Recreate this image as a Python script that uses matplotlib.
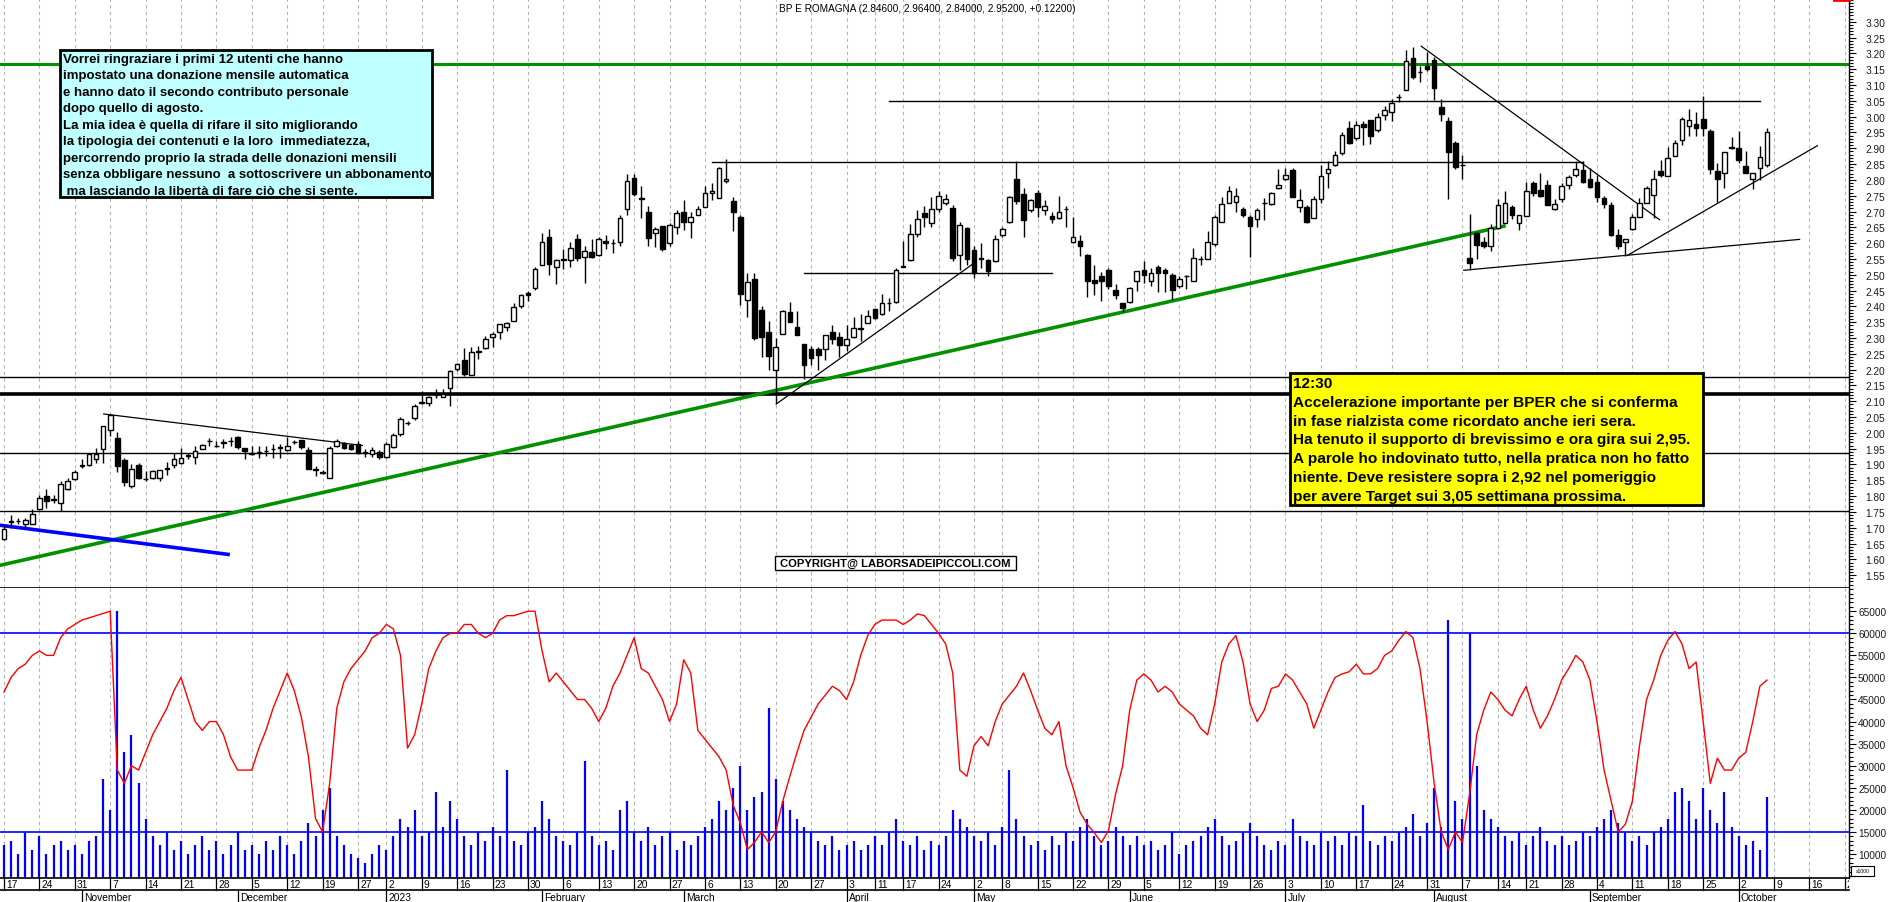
import numpy as np
import pandas as pd
import matplotlib
matplotlib.use("Agg")
import matplotlib.pyplot as plt
from matplotlib.patches import Rectangle
from matplotlib.lines import Line2D
from matplotlib.ticker import FixedLocator, MultipleLocator, FuncFormatter

plt.rcParams['font.family'] = ['Liberation Sans', 'DejaVu Sans']

# ---- dati BPER (candele giornaliere 17/10/2022 - 06/10/2023) ----
HOLIDAYS = ['2022-12-26', '2023-04-07', '2023-04-10', '2023-05-01', '2023-08-15']

opens = [1.665, 1.718, 1.721, 1.712, 1.712, 1.760, 1.800, 1.788, 1.779, 1.821,
         1.853, 1.896, 1.898, 1.916, 1.950, 2.009, 1.985, 1.913, 1.832, 1.897,
         1.855, 1.856, 1.858, 1.886, 1.897, 1.906, 1.927, 1.923, 1.950, 1.974,
         1.958, 1.969, 1.974, 1.987, 1.953, 1.937, 1.937, 1.942, 1.948, 1.953,
         1.945, 1.971, 1.976, 1.945, 1.884, 1.874, 1.858, 1.960, 1.967, 1.962,
         1.964, 1.940, 1.932, 1.940, 1.925, 1.956, 1.995, 2.030, 2.046, 2.095,
         2.095, 2.119, 2.114, 2.143, 2.201, 2.229, 2.183, 2.256, 2.269, 2.304,
         2.320, 2.335, 2.354, 2.401, 2.443, 2.459, 2.531, 2.618, 2.523, 2.547,
         2.547, 2.612, 2.557, 2.573, 2.564, 2.606, 2.599, 2.605, 2.707, 2.807,
         2.744, 2.700, 2.633, 2.655, 2.599, 2.652, 2.700, 2.668, 2.690, 2.715,
         2.757, 2.744, 2.795, 2.734, 2.684, 2.419, 2.488, 2.387, 2.320, 2.199,
         2.314, 2.383, 2.336, 2.280, 2.264, 2.264, 2.266, 2.320, 2.304, 2.278,
         2.303, 2.327, 2.348, 2.393, 2.375, 2.410, 2.415, 2.526, 2.546, 2.630,
         2.694, 2.665, 2.707, 2.728, 2.710, 2.562, 2.649, 2.578, 2.554, 2.546,
         2.544, 2.625, 2.668, 2.802, 2.755, 2.705, 2.758, 2.704, 2.686, 2.681,
         2.707, 2.605, 2.607, 2.563, 2.483, 2.496, 2.514, 2.451, 2.410, 2.415,
         2.480, 2.514, 2.480, 2.523, 2.514, 2.500, 2.463, 2.496, 2.480, 2.549,
         2.551, 2.596, 2.668, 2.728, 2.731, 2.707, 2.684, 2.676, 2.726, 2.723,
         2.774, 2.804, 2.831, 2.713, 2.715, 2.681, 2.739, 2.823, 2.846, 2.884,
         2.964, 2.934, 2.977, 2.989, 2.958, 3.005, 3.016, 3.061, 3.085, 3.184,
         3.140, 3.159, 3.179, 3.029, 2.985, 2.918, 2.846, 2.554, 2.631, 2.605,
         2.591, 2.647, 2.665, 2.713, 2.665, 2.686, 2.789, 2.767, 2.783, 2.707,
         2.739, 2.783, 2.816, 2.831, 2.802, 2.792, 2.742, 2.720, 2.625, 2.605,
         2.644, 2.684, 2.728, 2.752, 2.827, 2.813, 2.874, 2.926, 2.971, 2.976,
         2.992, 2.953, 2.829, 2.823, 2.902, 2.902, 2.844, 2.804, 2.836, 2.846]

highs = [1.710, 1.739, 1.731, 1.731, 1.758, 1.805, 1.821, 1.805, 1.848, 1.858,
         1.884, 1.916, 1.937, 1.951, 2.022, 2.058, 2.003, 1.922, 1.903, 1.905,
         1.879, 1.882, 1.884, 1.907, 1.937, 1.953, 1.937, 1.958, 1.964, 1.985,
         1.974, 1.980, 1.987, 1.990, 1.953, 1.958, 1.958, 1.958, 1.964, 1.964,
         1.988, 1.979, 1.979, 1.956, 1.895, 1.884, 1.958, 1.980, 1.971, 1.966,
         1.975, 1.950, 1.956, 1.945, 1.972, 2.000, 2.050, 2.037, 2.090, 2.132,
         2.118, 2.138, 2.140, 2.200, 2.222, 2.269, 2.270, 2.275, 2.305, 2.320,
         2.345, 2.352, 2.410, 2.440, 2.450, 2.525, 2.633, 2.644, 2.550, 2.580,
         2.605, 2.630, 2.590, 2.614, 2.620, 2.625, 2.612, 2.690, 2.820, 2.820,
         2.782, 2.717, 2.650, 2.655, 2.665, 2.704, 2.735, 2.700, 2.717, 2.780,
         2.790, 2.841, 2.865, 2.747, 2.690, 2.505, 2.505, 2.400, 2.355, 2.300,
         2.390, 2.415, 2.385, 2.280, 2.275, 2.270, 2.308, 2.340, 2.320, 2.340,
         2.365, 2.375, 2.387, 2.393, 2.438, 2.428, 2.520, 2.607, 2.660, 2.706,
         2.717, 2.746, 2.765, 2.755, 2.720, 2.667, 2.650, 2.590, 2.600, 2.550,
         2.626, 2.650, 2.750, 2.860, 2.773, 2.740, 2.768, 2.737, 2.700, 2.748,
         2.718, 2.683, 2.625, 2.565, 2.530, 2.510, 2.522, 2.470, 2.410, 2.462,
         2.512, 2.545, 2.520, 2.532, 2.520, 2.505, 2.496, 2.498, 2.585, 2.560,
         2.638, 2.690, 2.745, 2.781, 2.775, 2.715, 2.690, 2.710, 2.744, 2.762,
         2.835, 2.837, 2.838, 2.770, 2.720, 2.750, 2.846, 2.860, 2.890, 2.950,
         2.985, 2.985, 2.985, 2.990, 3.010, 3.035, 3.055, 3.071, 3.210, 3.220,
         3.160, 3.205, 3.190, 3.055, 3.000, 2.922, 2.878, 2.692, 2.635, 2.620,
         2.660, 2.740, 2.765, 2.720, 2.690, 2.792, 2.797, 2.823, 2.800, 2.740,
         2.790, 2.815, 2.860, 2.860, 2.838, 2.815, 2.750, 2.730, 2.645, 2.612,
         2.693, 2.744, 2.782, 2.830, 2.862, 2.905, 2.925, 3.000, 3.025, 3.015,
         3.065, 2.961, 2.852, 2.887, 2.937, 2.955, 2.890, 2.823, 2.907, 2.964]

lows = [1.662, 1.700, 1.712, 1.700, 1.712, 1.755, 1.763, 1.779, 1.753, 1.818,
        1.850, 1.890, 1.895, 1.906, 1.906, 1.990, 1.877, 1.832, 1.826, 1.853,
        1.848, 1.853, 1.847, 1.868, 1.890, 1.900, 1.916, 1.900, 1.948, 1.958,
        1.956, 1.953, 1.958, 1.948, 1.916, 1.930, 1.921, 1.927, 1.921, 1.921,
        1.942, 1.964, 1.948, 1.885, 1.863, 1.869, 1.858, 1.955, 1.948, 1.945,
        1.935, 1.925, 1.925, 1.917, 1.922, 1.953, 1.990, 2.025, 2.040, 2.090,
        2.085, 2.111, 2.112, 2.085, 2.195, 2.180, 2.183, 2.233, 2.265, 2.270,
        2.297, 2.322, 2.354, 2.395, 2.416, 2.452, 2.531, 2.500, 2.470, 2.517,
        2.525, 2.545, 2.473, 2.553, 2.560, 2.580, 2.570, 2.590, 2.690, 2.750,
        2.678, 2.590, 2.587, 2.576, 2.590, 2.630, 2.643, 2.617, 2.690, 2.714,
        2.735, 2.744, 2.790, 2.638, 2.405, 2.365, 2.295, 2.240, 2.200, 2.093,
        2.314, 2.350, 2.308, 2.170, 2.215, 2.200, 2.230, 2.280, 2.240, 2.260,
        2.300, 2.290, 2.347, 2.360, 2.372, 2.385, 2.412, 2.523, 2.545, 2.620,
        2.650, 2.650, 2.700, 2.720, 2.545, 2.515, 2.530, 2.490, 2.520, 2.495,
        2.540, 2.620, 2.664, 2.725, 2.618, 2.700, 2.682, 2.690, 2.665, 2.677,
        2.652, 2.600, 2.560, 2.430, 2.437, 2.418, 2.455, 2.422, 2.383, 2.410,
        2.450, 2.475, 2.465, 2.447, 2.447, 2.420, 2.457, 2.456, 2.480, 2.530,
        2.551, 2.590, 2.668, 2.727, 2.697, 2.683, 2.555, 2.650, 2.674, 2.720,
        2.770, 2.800, 2.747, 2.700, 2.663, 2.678, 2.727, 2.775, 2.845, 2.880,
        2.915, 2.927, 2.910, 2.915, 2.950, 2.990, 2.985, 3.045, 3.085, 3.120,
        3.108, 3.145, 3.052, 2.985, 2.740, 2.835, 2.804, 2.515, 2.550, 2.585,
        2.575, 2.645, 2.665, 2.675, 2.643, 2.686, 2.750, 2.745, 2.721, 2.705,
        2.730, 2.770, 2.810, 2.790, 2.775, 2.730, 2.710, 2.621, 2.583, 2.560,
        2.640, 2.684, 2.728, 2.680, 2.808, 2.813, 2.874, 2.910, 2.940, 2.940,
        2.940, 2.820, 2.729, 2.774, 2.897, 2.853, 2.823, 2.770, 2.800, 2.840]

closes = [1.695, 1.721, 1.721, 1.723, 1.745, 1.795, 1.784, 1.790, 1.837, 1.847,
          1.877, 1.898, 1.932, 1.934, 2.022, 2.056, 1.895, 1.845, 1.885, 1.858,
          1.853, 1.879, 1.881, 1.886, 1.916, 1.921, 1.927, 1.942, 1.961, 1.974,
          1.958, 1.969, 1.974, 1.956, 1.942, 1.932, 1.937, 1.942, 1.948, 1.953,
          1.958, 1.971, 1.956, 1.887, 1.884, 1.874, 1.953, 1.974, 1.953, 1.948,
          1.937, 1.935, 1.946, 1.923, 1.966, 1.992, 2.043, 2.032, 2.085, 2.095,
          2.114, 2.119, 2.122, 2.196, 2.217, 2.185, 2.256, 2.256, 2.298, 2.314,
          2.343, 2.349, 2.398, 2.435, 2.436, 2.519, 2.604, 2.535, 2.546, 2.547,
          2.586, 2.554, 2.575, 2.557, 2.612, 2.599, 2.599, 2.678, 2.795, 2.755,
          2.739, 2.617, 2.644, 2.580, 2.658, 2.694, 2.667, 2.684, 2.707, 2.757,
          2.765, 2.839, 2.802, 2.697, 2.440, 2.477, 2.299, 2.303, 2.243, 2.273,
          2.385, 2.352, 2.308, 2.215, 2.238, 2.246, 2.308, 2.296, 2.278, 2.298,
          2.333, 2.332, 2.370, 2.364, 2.412, 2.410, 2.515, 2.526, 2.630, 2.676,
          2.684, 2.709, 2.749, 2.738, 2.554, 2.657, 2.551, 2.507, 2.551, 2.512,
          2.612, 2.646, 2.747, 2.734, 2.674, 2.736, 2.715, 2.716, 2.676, 2.697,
          2.707, 2.618, 2.591, 2.480, 2.475, 2.480, 2.465, 2.436, 2.394, 2.459,
          2.512, 2.499, 2.507, 2.504, 2.504, 2.452, 2.488, 2.496, 2.554, 2.549,
          2.605, 2.684, 2.723, 2.764, 2.749, 2.689, 2.655, 2.705, 2.726, 2.760,
          2.784, 2.817, 2.747, 2.736, 2.667, 2.741, 2.811, 2.834, 2.879, 2.941,
          2.918, 2.973, 2.966, 2.939, 3.000, 3.020, 3.043, 3.061, 3.177, 3.124,
          3.140, 3.150, 3.090, 3.008, 2.889, 2.842, 2.846, 2.538, 2.594, 2.591,
          2.647, 2.720, 2.728, 2.689, 2.689, 2.765, 2.757, 2.749, 2.721, 2.723,
          2.781, 2.808, 2.834, 2.794, 2.776, 2.746, 2.725, 2.625, 2.591, 2.612,
          2.684, 2.728, 2.773, 2.802, 2.816, 2.868, 2.918, 2.992, 2.989, 2.963,
          2.963, 2.834, 2.802, 2.887, 2.902, 2.863, 2.823, 2.823, 2.871, 2.952]

# volumi (migliaia di pezzi)
volumes = [12, 13, 10, 15, 11, 14, 10, 12, 13, 11,
           12, 10, 13, 14, 27, 20, 65, 33, 37, 26,
           18, 14, 12, 15, 11, 13, 10, 12, 14, 11,
           13, 10, 12, 15, 11, 12, 10, 13, 11, 14,
           12, 10, 13, 17, 14, 20, 25, 14, 12, 10,
           9, 8, 10, 12, 11, 14, 18, 16, 20, 14,
           15, 24, 16, 22, 18, 14, 12, 15, 13, 16,
           14, 29, 13, 12, 15, 16, 22, 18, 14, 13,
           12, 15, 31, 14, 12, 13, 11, 20, 22, 15,
           13, 16, 12, 14, 15, 11, 13, 12, 14, 16,
           18, 22, 20, 25, 30, 20, 23, 24, 43, 27,
           22, 20, 18, 16, 15, 13, 12, 14, 11, 12,
           13, 11, 12, 14, 12, 15, 18, 13, 12, 14,
           11, 13, 12, 14, 20, 18, 16, 14, 13, 15,
           12, 16, 29, 18, 14, 12, 13, 11, 14, 12,
           15, 13, 16, 18, 14, 12, 13, 16, 14, 12,
           14, 12, 13, 11, 12, 15, 10, 12, 13, 14,
           16, 18, 14, 12, 13, 15, 17, 14, 12, 11,
           13, 12, 18, 14, 13, 12, 15, 13, 14, 12,
           15, 14, 21, 13, 12, 14, 13, 15, 16, 19,
           14, 17, 25, 16, 63, 22, 18, 60, 30, 20,
           18, 16, 14, 13, 15, 12, 14, 16, 13, 12,
           14, 12, 13, 15, 14, 16, 18, 20, 17, 15,
           13, 14, 12, 15, 16, 18, 24, 25, 22, 18,
           25, 20, 17, 24, 16, 14, 12, 13, 11, 23]

# oscillatore (linea rossa, stessa scala dei volumi)
oscillator = [46.7, 50, 52, 53, 55, 56, 55, 55, 59, 61,
              62, 63, 63.5, 64, 64.5, 65, 29, 26, 30, 29,
              33, 37, 40, 43, 47, 50, 45, 40, 38, 40,
              40, 37, 32, 29, 29, 29, 34, 38, 43, 47,
              51, 47, 41, 32, 18, 15, 26, 43, 49, 52,
              54, 56, 59, 60, 62, 61, 55, 34, 37, 44,
              52, 56, 59, 60, 60, 62, 62, 60, 59, 60,
              63, 64, 64, 64.5, 65, 65, 56, 49, 51, 49,
              47, 45, 45, 43, 40, 43, 48, 51, 55, 59,
              52, 51, 48, 45, 40, 44, 54, 51, 38, 36,
              34, 32, 29, 21, 17, 11, 12.6, 15, 12.6, 15,
              22, 27.6, 33, 38, 41, 44, 46, 48, 47, 45,
              49, 55, 59.5, 62, 63, 63, 63, 62, 63, 64.4,
              64, 62, 60, 57.6, 51, 29, 27.6, 34.5, 36.6, 34.5,
              40, 44, 46, 48, 51, 47, 42.6, 38.5, 37, 40,
              30, 25, 19.4, 16.7, 14.8, 12.6, 15.3, 23.5, 30, 42.6,
              49.4, 50.8, 49.4, 46.7, 48, 46.7, 44, 42.6, 41.3, 38.5,
              37, 44, 53.5, 57.6, 59.5, 53.5, 44, 40, 42.6, 47.5,
              48, 50.8, 49.4, 46.7, 44, 38.5, 42.6, 46.7, 50, 50.8,
              51.3, 53, 50.8, 50.8, 52, 55, 56, 58.4, 60.4, 59,
              52, 40, 26, 15, 11, 15, 12.6, 23.5, 37, 42.6,
              46.7, 45, 42.6, 41.3, 45, 48, 42.6, 38.5, 41.3, 45,
              49.4, 52, 55, 53.5, 49.4, 40, 29, 22, 15, 16.7,
              22, 34.5, 45, 49.4, 55, 58.4, 60.4, 57.6, 52, 53.5,
              40, 26, 31.7, 29, 29, 31.7, 33, 40, 48, 49.4]

# linee di supporto / resistenza orizzontali a tutta larghezza: (prezzo, colore, spessore)
full_levels = [(3.167, '#009000', 2.2), (2.178, 'black', 1.0), (2.122, 'black', 2.6),
               (1.937, 'black', 1.0), (1.754, 'black', 1.0)]
# segmenti orizzontali: (da indice, a indice, prezzo)
short_levels = [(100, 223, 2.855), (125, 248, 3.051), (113, 148, 2.507)]
# trendline: ((i0, p0), (i1, p1), colore, spessore)
trendlines = [((-0.6, 1.581), (212.1, 2.655), '#009000', 2.6),
              ((-0.6, 1.708), (31.9, 1.615), '#0000ff', 2.6),
              ((14.0, 2.060), (50.7, 1.960), 'black', 0.9),
              ((109.0, 2.090), (136.9, 2.535), 'black', 0.9),
              ((200.1, 3.224), (233.9, 2.673), 'black', 0.9),
              ((206.1, 2.514), (253.7, 2.612), 'black', 0.9),
              ((229.2, 2.560), (256.2, 2.909), 'black', 0.9)]

title_txt = "BP E ROMAGNA (2.84600, 2.96400, 2.84000, 2.95200, +0.12200)"
note_cyan = ["Vorrei ringraziare i primi 12 utenti che hanno",
             "impostato una donazione mensile automatica",
             "e hanno dato il secondo contributo personale",
             "dopo quello di agosto.",
             "La mia idea è quella di rifare il sito migliorando",
             "la tipologia dei contenuti e la loro  immediatezza,",
             "percorrendo proprio la strada delle donazioni mensili",
             "senza obbligare nessuno  a sottoscrivere un abbonamento",
             " ma lasciando la libertà di fare ciò che si sente."]
note_yellow = ["12:30",
               "Accelerazione importante per BPER che si conferma",
               "in fase rialzista come ricordato anche ieri sera.",
               "Ha tenuto il supporto di brevissimo e ora gira sui 2,95.",
               "A parole ho indovinato tutto, nella pratica non ho fatto",
               "niente. Deve resistere sopra i 2,92 nel pomeriggio",
               "per avere Target sui 3,05 settimana prossima."]

# ---- calendario di borsa ----
all_days = pd.bdate_range('2022-10-17', '2023-10-27')
all_days = all_days[~all_days.isin(pd.to_datetime(HOLIDAYS))]
n = len(closes)
idx = np.arange(n)

week_pos = [k for k in range(len(all_days)) if k == 0 or all_days[k].weekday() < all_days[k - 1].weekday()]
month_pos = [k for k in range(1, len(all_days)) if all_days[k].month != all_days[k - 1].month]

W, H = 1890, 903
fig = plt.figure(figsize=(W / 100, H / 100), dpi=100)
AXW = 1849 / W
XMIN, XMAX = -4 / 7.08, (1849 - 4) / 7.08


def fx(px):
    return px / W


def fy(py):
    return 1 - py / H


ax = fig.add_axes([0, fy(588.5), AXW, 588.5 / H])
ax2 = fig.add_axes([0, fy(879), AXW, (879 - 588.5) / H])
ax3 = fig.add_axes([0, 0, AXW, (H - 879) / H])

for a, pad in ((ax, 7), (ax2, 1.5)):
    a.set_xlim(XMIN, XMAX)
    for k in week_pos:
        a.axvline(k, color='#b4b4b4', lw=0.8, ls=(0, (3, 3)), zorder=0)
    a.spines['left'].set_visible(False)
    a.spines['top'].set_visible(False)
    a.spines['right'].set_linewidth(1.0)
    a.spines['bottom'].set_linewidth(1.2)
    a.set_xticks([])
    a.yaxis.tick_right()
    a.tick_params(axis='y', which='major', direction='out', length=5, width=0.8,
                  labelsize=7.3, pad=pad, labelcolor='#1a1a1a')
    a.tick_params(axis='y', which='minor', direction='out', length=2.8, width=0.8)

# ---- pannello prezzi ----
ax.set_ylim(1.511, 3.372)
ax.yaxis.set_major_locator(FixedLocator(np.round(np.arange(1.55, 3.301, 0.05), 2)))
ax.yaxis.set_minor_locator(MultipleLocator(0.01))
ax.yaxis.set_major_formatter(FuncFormatter(lambda v, p: f"{v:.2f}"))

for lvl, col, lw in full_levels:
    ax.axhline(lvl, color=col, lw=lw, zorder=1)
for i0, i1, lvl in short_levels:
    ax.plot([i0, i1], [lvl, lvl], color='black', lw=1.0, zorder=1)
for (i0, p0), (i1, p1), col, lw in trendlines:
    ax.plot([i0, i1], [p0, p1], color=col, lw=lw, zorder=2, solid_capstyle='butt')

o = np.array(opens)
c = np.array(closes)
up = c >= o
ax.vlines(idx, lows, highs, color='black', lw=1.0, zorder=3)
body_lo = np.minimum(o, c)
body_h = np.maximum(np.abs(c - o), 0.0015)
ax.bar(idx[up], body_h[up], bottom=body_lo[up], width=0.66, color='white',
       edgecolor='black', linewidth=1.0, zorder=4)
ax.bar(idx[~up], body_h[~up], bottom=body_lo[~up], width=0.66, color='black',
       edgecolor='black', linewidth=1.0, zorder=4)

# ---- pannello volumi ----
ax2.set_ylim(4.55, 70.38)
ax2.yaxis.set_major_locator(FixedLocator(np.arange(10, 66, 5)))
ax2.yaxis.set_minor_locator(MultipleLocator(1))
ax2.yaxis.set_major_formatter(FuncFormatter(lambda v, p: f"{int(round(v * 1000))}"))
ax2.vlines(idx, 4.55, volumes, color='#0000ff', lw=1.6, zorder=2)
ax2.axhline(60, color='#0000ff', lw=1.2, zorder=3)
ax2.axhline(15, color='#0000ff', lw=1.2, zorder=3)
ax2.plot(idx, oscillator, color='#ff0000', lw=1.0, zorder=4)

# ---- asse delle date ----
ax3.set_xlim(XMIN, XMAX)
ax3.set_ylim(0, 1)
ax3.axis('off')
ax3.plot([XMIN, XMAX], [0.5, 0.5], color='black', lw=1.2, clip_on=False)
for k in week_pos:
    ax3.plot([k, k], [0.5, 1], color='black', lw=0.9)
    ax3.text(k + 0.3, 0.74, str(all_days[k].day), fontsize=7.4, va='center', ha='left', clip_on=True)
for k in month_pos:
    d = all_days[k]
    lab = str(d.year) if d.month == 1 else d.strftime('%B')
    ax3.plot([k, k], [0, 0.5], color='black', lw=0.9)
    ax3.text(k + 0.3, 0.22, lab, fontsize=7.4, va='center', ha='left', clip_on=True)

# ---- testi e riquadri ----
fig.text(fx(779), fy(8.5), title_txt, fontsize=7.2, va='center', ha='left')
fig.add_artist(Line2D([fx(1834), fx(1849)], [fy(0.8), fy(0.8)], color='red', lw=2))

fig.add_artist(Rectangle((fx(60), fy(198)), fx(432) - fx(60), fy(51) - fy(198),
                         transform=fig.transFigure, facecolor='#c0ffff', edgecolor='black', lw=2, zorder=5))
for k, line in enumerate(note_cyan):
    fig.text(fx(63), fy(60 + 16.46 * k), line, fontsize=9.5, fontweight='bold',
             va='center', ha='left', zorder=6)

fig.add_artist(Rectangle((fx(1290), fy(506)), fx(1703) - fx(1290), fy(374) - fy(506),
                         transform=fig.transFigure, facecolor='#ffff00', edgecolor='black', lw=2, zorder=5))
for k, line in enumerate(note_yellow):
    fig.text(fx(1293), fy(384 + 18.8 * k), line, fontsize=11.05, fontweight='bold',
             va='center', ha='left', zorder=6)

fig.add_artist(Rectangle((fx(775), fy(571)), fx(1016) - fx(775), fy(557) - fy(571),
                         transform=fig.transFigure, facecolor='white', edgecolor='black', lw=1, zorder=5))
fig.text(fx(895.5), fy(564), "COPYRIGHT@ LABORSADEIPICCOLI.COM", fontsize=8.1, fontweight='bold',
         va='center', ha='center', zorder=6)

fig.add_artist(Rectangle((fx(1851), fy(877)), fx(1874) - fx(1851), fy(867) - fy(877),
                         transform=fig.transFigure, facecolor='white', edgecolor='black', lw=0.8, zorder=5))
fig.text(fx(1862.5), fy(872), "x1000", fontsize=3.6, va='center', ha='center', zorder=6)

fig.savefig('out.png', dpi=100)
